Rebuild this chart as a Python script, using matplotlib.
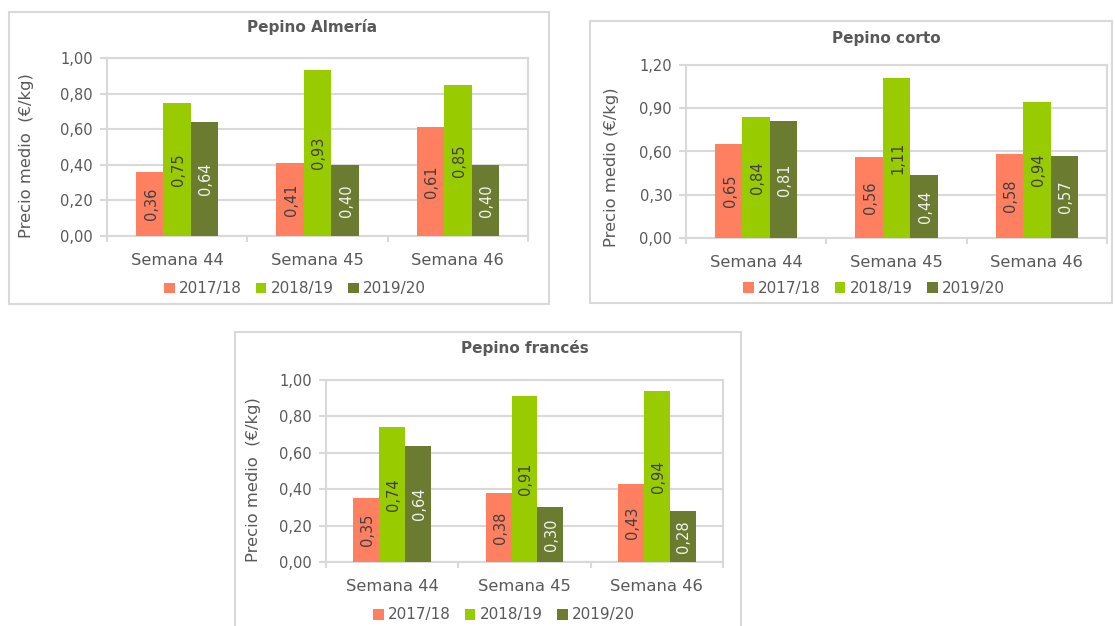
import matplotlib
matplotlib.use("Agg")
import matplotlib.pyplot as plt
from matplotlib.patches import Rectangle, Patch
import numpy as np

plt.rcParams['font.family'] = ['DejaVu Sans']

categories = ["Semana 44", "Semana 45", "Semana 46"]
series_names = ["2017/18", "2018/19", "2019/20"]

almeria_1718 = [0.36, 0.41, 0.61]
almeria_1819 = [0.75, 0.93, 0.85]
almeria_1920 = [0.64, 0.40, 0.40]

corto_1718 = [0.65, 0.56, 0.58]
corto_1819 = [0.84, 1.11, 0.94]
corto_1920 = [0.81, 0.44, 0.57]

frances_1718 = [0.35, 0.38, 0.43]
frances_1819 = [0.74, 0.91, 0.94]
frances_1920 = [0.64, 0.30, 0.28]

titles = ["Pepino Almería", "Pepino corto", "Pepino francés"]
ylabels = ["Precio medio  (€/kg)", "Precio medio (€/kg)", "Precio medio  (€/kg)"]
yticks_list = [[0, 0.2, 0.4, 0.6, 0.8, 1.0],
               [0, 0.3, 0.6, 0.9, 1.2],
               [0, 0.2, 0.4, 0.6, 0.8, 1.0]]

colors = ["#FF8060", "#99CC00", "#6B7B2F"]
label_colors = ["#404040", "#404040", "#F2F2F2"]
TXT = "#595959"
GRID = "#D9D9D9"

W, H = 1115, 626
fig = plt.figure(figsize=(W / 100, H / 100), dpi=100)

def fx(x):
    return x / W

def fy(y):
    return 1 - y / H

panels = [
    dict(border=(9, 12, 549, 304), axes=(107, 58, 528, 236), title=(312, 27), legend=(295, 289), ylab=(34, 156)),
    dict(border=(590, 21, 1112, 303), axes=(686, 65, 1107, 238), title=(886, 38), legend=(874, 288), ylab=(619, 167)),
    dict(border=(235, 332, 741, 640), axes=(326, 380, 723, 562), title=(525, 348), legend=(504, 615), ylab=(261, 480)),
]

data = [
    [almeria_1718, almeria_1819, almeria_1920],
    [corto_1718, corto_1819, corto_1920],
    [frances_1718, frances_1819, frances_1920],
]

for p, series, title, ylabel, yticks in zip(panels, data, titles, ylabels, yticks_list):
    bl, bt, br, bb = p['border']
    fig.patches.append(Rectangle((fx(bl), fy(bb)), fx(br - bl), (bb - bt) / H,
                                 transform=fig.transFigure, fill=False,
                                 edgecolor=GRID, linewidth=1.5, zorder=0))
    al, at, ar, ab = p['axes']
    ax = fig.add_axes([fx(al), fy(ab), fx(ar - al), (ab - at) / H])
    x = np.arange(len(categories))
    bw = 0.195
    for i, (vals, c, lc) in enumerate(zip(series, colors, label_colors)):
        xs = x + (i - 1) * bw
        ax.bar(xs, vals, width=bw, color=c, zorder=3, label=series_names[i])
        for xi, v in zip(xs, vals):
            ax.text(xi + 0.01, v / 2, f"{v:.2f}".replace('.', ','), rotation=90,
                    ha='center', va='center', color=lc, fontsize=10.5, zorder=4)
    ax.set_xlim(-0.5, 2.5)
    ax.set_ylim(yticks[0], yticks[-1])
    ax.set_yticks(yticks)
    ax.set_yticklabels([f"{t:.2f}".replace('.', ',') for t in yticks])
    ax.yaxis.grid(True, color=GRID, linewidth=1.5, zorder=0)
    ax.set_axisbelow(True)
    ax.set_xticks(x)
    ax.set_xticklabels(categories)
    ax.set_xticks([-0.5, 0.5, 1.5, 2.5], minor=True)
    ax.tick_params(axis='x', which='major', length=0, pad=12, labelsize=11.8, labelcolor=TXT)
    ax.tick_params(axis='x', which='minor', length=4, width=1.5, color=GRID)
    ax.tick_params(axis='y', length=5, width=1.5, color=GRID, pad=5, labelsize=10.5, labelcolor=TXT)
    for s in ax.spines.values():
        s.set_color(GRID)
        s.set_linewidth(1.5)
    ax.set_ylabel(ylabel, color=TXT, fontsize=11.8)
    lxp, lyp = p['ylab']
    ax.yaxis.set_label_coords((lxp - al) / (ar - al), (ab - lyp) / (ab - at))
    tx, ty = p['title']
    fig.text(fx(tx), fy(ty), title, ha='center', va='center', fontsize=11,
             fontweight='bold', color=TXT)
    lx, ly = p['legend']
    handles = [Patch(facecolor=c, edgecolor='none') for c in colors]
    fig.legend(handles, series_names, loc='center', bbox_to_anchor=(fx(lx), fy(ly)),
               ncol=3, frameon=False, fontsize=11, labelcolor=TXT,
               handlelength=0.7, handleheight=0.7, handletextpad=0.3,
               columnspacing=0.9, borderpad=0, borderaxespad=0)

fig.savefig("out.png", dpi=100)
